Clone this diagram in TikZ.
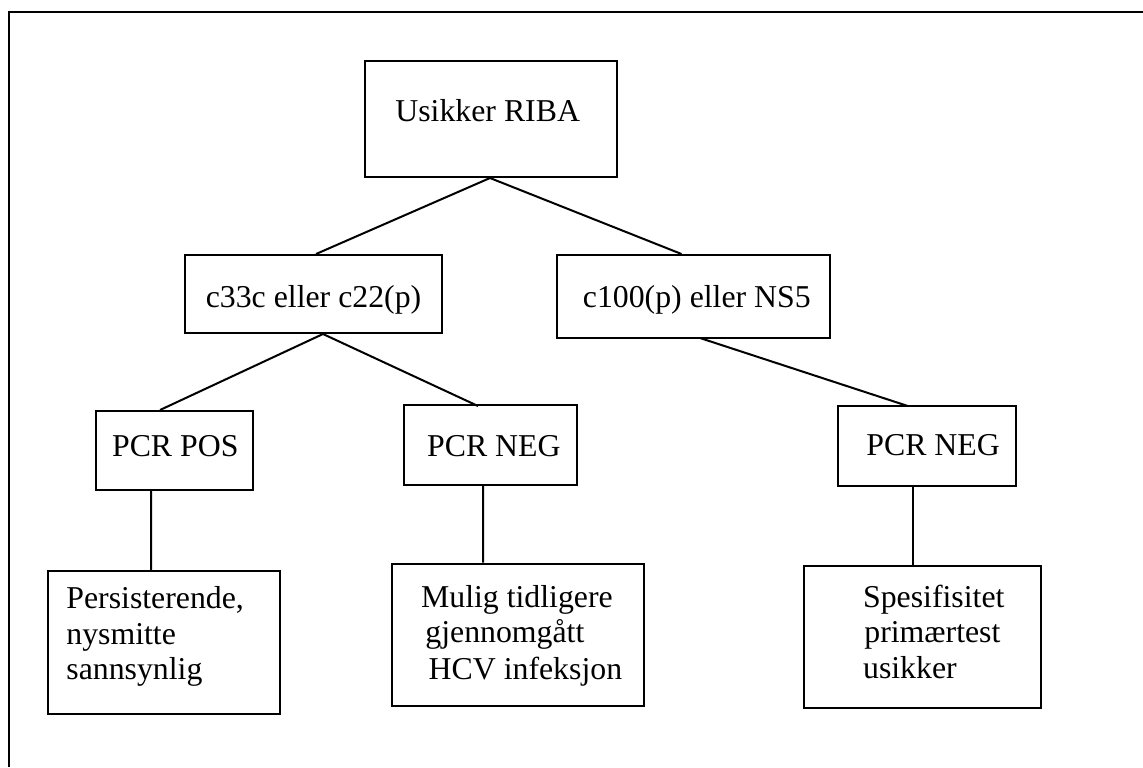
\documentclass[tikz,border=0pt]{standalone}
\usepackage{fontspec}
\setmainfont{Liberation Serif}
\usetikzlibrary{calc}
\begin{document}
\begin{tikzpicture}[x=0.5pt,y=-0.5pt,
  box/.style={draw=black,line width=1pt,inner sep=0pt,anchor=north west},
  txt/.style={inner sep=0pt,anchor=base west,font=\fontsize{15.9}{18}\selectfont},
  conn/.style={draw=black,line width=1pt}]
\useasboundingbox (0,0) rectangle (1143,767);
\fill[white] (0,0) rectangle (1143,767);
% outer frame (top and left only)
\draw[line width=1pt] (9,767) -- (9,12) -- (1143,12);
% boxes
\node[box,minimum width=126.25pt,minimum height=58pt] (riba) at (363.5,60) {};
\node[box,minimum width=128.5pt,minimum height=39pt] (c33) at (184,254) {};
\node[box,minimum width=136.75pt,minimum height=41.5pt] (c100) at (555.5,254) {};
\node[box,minimum width=78.5pt,minimum height=39.5pt] (pos) at (95,410) {};
\node[box,minimum width=86.5pt,minimum height=40pt] (negA) at (403,403.5) {};
\node[box,minimum width=88.75pt,minimum height=39.75pt] (negB) at (837.3,405) {};
\node[box,minimum width=116.25pt,minimum height=71.25pt] (pers) at (46.7,570) {};
\node[box,minimum width=126.15pt,minimum height=70.9pt] (mulig) at (390.7,562.7) {};
\node[box,minimum width=118.65pt,minimum height=71pt] (spes) at (802.7,565) {};
% texts
\node[txt] (ribaT) at (395,121.7) {Usikker RIBA};
\node[txt] (c33T) at (205.4,307.3) {c33c eller c22(p)};
\node[txt] (c100T) at (582.5,307.3) {c100(p) eller NS5};
\node[txt] (posT) at (111.7,456) {PCR POS};
\node[txt] (negAT) at (426.7,456) {PCR NEG};
\node[txt] (negBT) at (866,455.5) {PCR NEG};
\node[txt] (pers1) at (66,608.5) {Persisterende,};
\node[txt] (pers2) at (66,644) {nysmitte};
\node[txt] (pers3) at (66,679) {sannsynlig};
\node[txt] (mul1) at (420.7,607.5) {Mulig tidligere};
\node[txt] (mul2) at (425,642.5) {gjennomgått};
\node[txt] (mul3) at (428.3,679.3) {HCV infeksjon};
\node[txt] (spe1) at (862.7,607) {Spesifisitet};
\node[txt] (spe2) at (864,642) {primærtest};
\node[txt] (spe3) at (862.7,678.3) {usikker};
% connectors
\draw[conn] ($(riba.south west)+(126.5,0)$) -- ($(c33.north west)+(132,0)$);
\draw[conn] ($(riba.south west)+(126.5,0)$) -- ($(c100.north west)+(126,0)$);
\draw[conn] ($(c33.south west)+(139,0)$) -- ($(pos.north west)+(65,0)$);
\draw[conn] ($(c33.south west)+(139,0)$) -- ($(negA.north west)+(75,2.5)$);
\draw[conn] ($(c100.south west)+(144.5,-1)$) -- ($(negB.north west)+(70.5,1)$);
\draw[conn] ($(pos.south west)+(56,0)$) -- ($(pers.north west)+(104.3,0)$);
\draw[conn] ($(negA.south west)+(80,0)$) -- ($(mulig.north west)+(92.3,0)$);
\draw[conn] ($(negB.south west)+(75.7,0)$) -- ($(spes.north west)+(110.3,0)$);
\end{tikzpicture}
\end{document}
